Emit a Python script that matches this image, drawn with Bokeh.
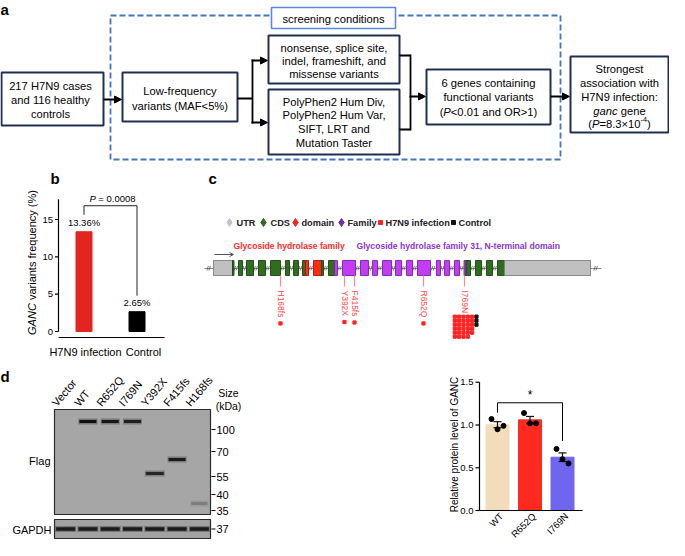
import math
import numpy as np
from bokeh.plotting import figure
from bokeh.models import Range1d, Arrow, NormalHead, OpenHead
from bokeh.core.properties import value
from bokeh.embed import file_html
from bokeh.resources import INLINE

FONT = "Liberation Sans"

# ---------------- data ----------------
a_start = ["217 H7N9 cases", "and 116 healthy", "controls"]
a_filter = ["Low-frequency", "variants (MAF<5%)"]
a_func = ["nonsense, splice site,", "indel, frameshift, and", "missense variants"]
a_pred = ["PolyPhen2 Hum Div,", "PolyPhen2 Hum Var,", "SIFT, LRT and", "Mutation Taster"]
a_genes = ["6 genes containing", "functional variants"]
a_result = ["Strongest", "association with", "H7N9 infection:"]
a_screen = "screening conditions"

b_groups = ["H7N9 infection", "Control"]
b_freq = [13.36, 2.65]
b_colors = ["#e3241f", "#000000"]
b_yticks = [0, 5, 10, 15]
b_pvalue = "0.0008"

c_legend = ["UTR", "CDS", "domain", "Family", "H7N9 infection", "Control"]
c_variants = ["H168fs", "Y392X", "F415fs", "R652Q", "I769N"]
c_case_counts = [1, 1, 1, 1, 29]
c_ctrl_counts = [0, 0, 0, 0, 3]
c_domain_titles = ["Glycoside hydrolase family", "Glycoside hydrolase family 31, N-terminal domain"]

d_lanes = ["Vector", "WT", "R652Q", "I769N", "Y392X", "F415fs", "H168fs"]
d_ladder = ["100", "70", "55", "40", "35"]
d_groups = ["WT", "R652Q", "I769N"]
d_wt = [1.07, 0.95, 0.99]
d_r652q = [1.14, 1.02, 1.02]
d_i769n = [0.72, 0.60, 0.55]
d_colors = ["#f3dcb9", "#ff2a1f", "#6f66f0"]
d_yticks = [0.0, 0.5, 1.0, 1.5]

# ---------------- canvas ----------------
W, H = 669, 540
TOP, BOT = 8, 8 + H
p = figure(width=W, height=H, x_range=Range1d(8, 8 + W), y_range=Range1d(BOT, TOP),
           output_backend="svg", toolbar_location=None, min_border=0, title=None,
           x_axis_location=None, y_axis_location=None)
p.grid.visible = False
p.outline_line_color = None
p.background_fill_color = "white"
p.border_fill_color = "white"

ranges = {}
def make_range(name, v0, px0, v1, px1):
    k = (px0 - px1) / (v1 - v0)
    start = v0 - (BOT - px0) / k
    end = start + (BOT - TOP) / k
    ranges[name] = Range1d(start, end)
    return k

kb = make_range("b", 0, 339, 15, 227)
kd = make_range("d", 0.0, 518, 1.0, 432.5)
p.extra_y_ranges = ranges

AW = {' ': 278, '(': 333, ')': 333, '%': 889, ',': 278, '-': 333, '.': 278, '<': 584, '>': 584,
      '=': 584, '×': 584, '*': 389, ':': 278}
for ch in '0123456789':
    AW[ch] = 556
AW.update(dict(A=667, B=667, C=722, D=722, E=667, F=611, G=778, H=722, I=278, J=500, K=667, L=556,
               M=833, N=722, O=778, P=667, Q=778, R=722, S=667, T=611, U=722, V=667, W=944, X=667,
               Y=667, Z=611))
AW.update(dict(a=556, b=556, c=500, d=556, e=556, f=278, g=556, h=556, i=222, j=222, k=500, l=222,
               m=833, n=556, o=556, p=556, q=556, r=333, s=500, t=278, u=556, v=500, w=722, x=500,
               y=500, z=500))

def tw(s, size):
    return sum(AW.get(ch, 556) for ch in s) / 1000.0 * size

def put(x, y, s, size, color="#000000", align="center", baseline="middle", style="normal",
        angle=0.0, yr="default"):
    xs = list(x) if isinstance(x, (list, tuple, np.ndarray)) else [x]
    ys = list(y) if isinstance(y, (list, tuple, np.ndarray)) else [y]
    ss = list(s) if isinstance(s, (list, tuple)) else [s]
    p.text(x=xs, y=ys, text=ss, text_font=value(FONT), text_font_size=f"{size}px",
           text_color=color, text_align=align, text_baseline=baseline, text_font_style=style,
           angle=angle, y_range_name=yr)

def rich(x, y, pieces, size, color="#000000", vertical=False):
    widths = [tw(s, size * sc) for s, st, sc, dy in pieces]
    pos = -sum(widths) / 2.0
    for (s, st, sc, dy), w in zip(pieces, widths):
        lead = len(s) - len(s.lstrip(' '))
        off = pos + lead * 0.278 * size * sc
        if vertical:
            put(x, y - off, s.strip(), size * sc, color, "left", style=st, angle=math.pi / 2)
        else:
            put(x + off, y + dy, s.strip(), size * sc, color, "left", style=st)
        pos += w

def box(l, r, t, b, color="#1f2f52", width=2.0, dash="solid", fill=None):
    p.quad(left=[l], right=[r], top=[t], bottom=[b], fill_color=fill, fill_alpha=1 if fill else 0,
           line_color=color, line_width=width, line_dash=dash)

def arrow(x0, y0, x1, y1):
    p.add_layout(Arrow(end=NormalHead(size=7, fill_color="#000000", line_color="#000000", line_width=1),
                       x_start=x0, y_start=y0, x_end=x1, y_end=y1, line_width=1.8, line_color="#000000"))

# ---------------- panel labels ----------------
put(8, 8, "a", 15, align="left", baseline="top", style="bold")
put(58, 177, "b", 15, align="left", baseline="top", style="bold")
put(216, 177, "c", 15, align="left", baseline="top", style="bold")
put(8, 375, "d", 15, align="left", baseline="top", style="bold")

# ---------------- panel a ----------------
FS = 11.2
box(118, 568, 23, 167, color="#4472c4", width=1.8, dash="6 3")
box(279, 403, 15, 36, color="#5b8ad6", width=1.6, fill="white")
put(341, 26, a_screen, FS)

box(9, 111, 80, 133)
put([58] * 3, [93, 107.5, 121], a_start, FS)
arrow(111, 107, 129, 107)

box(130, 245, 80, 129)
put([187.5] * 2, [98.5, 113.5], a_filter, FS)
p.line([245, 260], [106, 106], line_color="black", line_width=1.8)
p.line([260, 260], [67, 131], line_color="black", line_width=1.8)
arrow(259, 68, 275, 68)
arrow(259, 130, 275, 130)

box(276, 407, 43, 91)
put([341.5] * 3, [55, 68, 81], a_func, FS)
box(276, 407, 97, 162)
put([341.5] * 4, [109, 122.5, 136, 150], a_pred, FS)

p.line([407, 418], [63, 63], line_color="black", line_width=1.8)
p.line([407, 418], [137, 137], line_color="black", line_width=1.8)
p.line([418, 418], [62, 138], line_color="black", line_width=1.8)
arrow(417, 104, 433, 104)

box(434, 558, 77, 132)
put([496] * 2, [90, 104.5], a_genes, FS)
rich(496, 119, [("(", "normal", 1, 0), ("P", "italic", 1, 0), ("<0.01 and OR>1)", "normal", 1, 0)], FS)
arrow(558, 104, 577, 104)

box(578, 676, 64, 140)
put([627] * 3, [76, 90, 104], a_result, FS)
rich(627, 118, [("ganc", "italic", 1, 0), (" gene", "normal", 1, 0)], FS)
rich(627, 131, [("(", "normal", 1, 0), ("P", "italic", 1, 0), ("=8.3×10", "normal", 1, 0),
                ("-4", "normal", 0.65, -4), (")", "normal", 1, 0)], FS)

# ---------------- panel b ----------------
bx = [91.5, 144.5]
AXB = 66
p.vbar(x=bx, width=16, top=b_freq, bottom=0, fill_color=b_colors, line_color=b_colors,
       y_range_name="b")
for xv, v in zip(bx, b_freq):
    put(xv, v + 4 / kb, f"{v:.2f}%", 9.5, baseline="bottom", yr="b")
p.line([AXB, AXB], [0, 17.7], line_color="black", line_width=1.2, y_range_name="b")
p.segment(x0=[AXB - 3.5] * len(b_yticks), x1=[AXB] * len(b_yticks), y0=b_yticks, y1=b_yticks,
          line_color="black", line_width=1.2, y_range_name="b")
put([AXB - 5.5] * len(b_yticks), b_yticks, [str(t) for t in b_yticks], 9.5, align="right", yr="b")
p.line([AXB, 172], [345, 345], line_color="black", line_width=1.2)
put([93, 151], [359, 359], b_groups, 11)
rich(39, 270, [("GANC", "italic", 1, 0), (" variants frequency (%)", "normal", 1, 0)], 11, vertical=True)
top_b = max(b_freq) + 26 / kb
p.line([bx[0], bx[0], bx[1], bx[1]],
       [b_freq[0] + 17 / kb, top_b, top_b, b_freq[1] + 16 / kb],
       line_color="#222222", line_width=1.0, y_range_name="b")
rich((bx[0] + bx[1]) / 2 + 2, 206, [("P", "italic", 1, 0), (" = " + b_pvalue, "normal", 1, 0)], 9.5)

# ---------------- panel c ----------------
leg_mx = [237, 271, 303, 349, 388, 461]
leg_tx = [244, 278, 309, 355, 393, 466]
leg_mk = ["diamond", "diamond", "diamond", "diamond", "square", "square"]
leg_col = ["#c4c4c4", "#2e6b1a", "#ff2020", "#7030a0", "#ff2020", "#111111"]
leg_sz = [8, 8, 8, 8, 4, 4]
p.scatter(x=leg_mx, y=[230] * 6, marker=leg_mk, size=leg_sz, fill_color=leg_col, line_color=leg_col)
put(leg_tx, [230] * 6, c_legend, 9.2, color="#222222", align="left", style="bold")

put(241, 253, c_domain_titles[0], 8.6, color="#ff2b2b", align="left", style="bold")
put(364, 253, c_domain_titles[1], 8.6, color="#8c35d0", align="left", style="bold")
p.add_layout(Arrow(end=OpenHead(size=4, line_color="#555555", line_width=1),
                   x_start=222, y_start=262, x_end=241, y_end=262, line_width=1, line_color="#555555"))

EX = {"utr": ("#c0c0c0", "#808080"), "cds": ("#2e6e1c", "#1b4310"),
      "dom": ("#ff2a12", "#b01010"), "fam": ("#c23cf5", "#7d1fa6")}
exons = [(221, 240, "utr"), (240, 241.5, "cds"), (246, 250, "cds"), (254, 261, "cds"), (266, 273, "cds"),
         (278, 288, "cds"), (293, 297, "cds"), (301, 306, "cds"), (310, 313, "cds"), (313, 316, "dom"),
         (321, 329, "dom"), (329, 331, "cds"), (336, 342, "cds"), (342, 345, "fam"), (350, 363, "fam"),
         (368, 376, "fam"), (380, 385, "fam"), (390, 399, "fam"), (403, 409, "fam"), (414, 420, "fam"),
         (425, 438, "fam"), (444, 448, "fam"), (452, 457, "fam"), (462, 467, "fam"), (471.5, 473.5, "fam"),
         (473.5, 478, "cds"), (483, 489, "cds"), (494, 500, "cds"), (505, 512, "cds"), (512, 598, "utr")]
p.line([212, 609], [276, 276], line_color="#8c8c8c", line_width=1.0)
gap_c = [216.5]
for a0, a1 in zip(exons[:-1], exons[1:]):
    if a1[0] - a0[1] > 2.5:
        gap_c.append((a0[1] + a1[0]) / 2)
gap_c.append(603.5)
gx0 = [g - 2.2 for g in gap_c] + [g - 0.2 for g in gap_c]
gx1 = [g - 0.6 for g in gap_c] + [g + 1.4 for g in gap_c]
p.segment(x0=gx0, y0=[278] * len(gx0), x1=gx1, y1=[273.5] * len(gx0), line_color="#555555", line_width=0.8)
p.quad(left=[e[0] for e in exons], right=[e[1] for e in exons], top=[268] * len(exons),
       bottom=[283] * len(exons), fill_color=[EX[e[2]][0] for e in exons],
       line_color=[EX[e[2]][1] for e in exons], line_width=0.9)

var_x = [288, 352, 362, 431, 472]
p.segment(x0=var_x, x1=var_x, y0=[283] * 5, y1=[294] * 5, line_color="#ff8c8c", line_width=1.2)
put(var_x, [298] * 5, c_variants, 8.5, color="#ff4646", align="left", angle=-math.pi / 2)
for i, (xv, name) in enumerate(zip(var_x, c_variants)):
    y_end = 298 + tw(name, 8.5)
    nc, nk = c_case_counts[i], c_ctrl_counts[i]
    if nc + nk == 1:
        p.scatter(x=[xv], y=[y_end + 6], marker="square", size=3.2, fill_color="#ff2020", line_color="#ff2020")
    else:
        ncol = 5
        gx = [xv - 9.7 + 4.33 * (j % ncol) for j in range(nc)]
        gy = [y_end + 3.5 + 4 * (j // ncol) for j in range(nc)]
        p.scatter(x=gx, y=gy, marker="square", size=3.2, fill_color="#ff2020", line_color="#ff2020")
        kx = [xv - 9.7 + 4.33 * ncol] * nk
        ky = [y_end + 3.5 + 4 * j for j in range(nk)]
        p.scatter(x=kx, y=ky, marker="square", size=3.2, fill_color="#111111", line_color="#111111")

# ---------------- panel d: western blot ----------------
BL, BR = 62, 218
lw = (BR - BL) / len(d_lanes)
lane_x = [BL + lw / 2 + lw * i for i in range(len(d_lanes))]
box(BL, BR, 417, 522, color="#2a2a2a", width=1.2, fill="#a6a6a6")
box(BL, BR, 527, 546, color="#2a2a2a", width=1.2, fill="#a2a2a2")
put([x - 7 for x in lane_x], [416] * len(d_lanes), d_lanes, 11, align="left", baseline="bottom",
    angle=0.87)
put(236, 400, "Size", 10.5)
put(236, 413, "(kDa)", 10.5)
lad_y = [437, 459, 484, 502, 518]
p.segment(x0=[219] * 5, x1=[223] * 5, y0=lad_y, y1=lad_y, line_color="black", line_width=1.2)
put([224] * 5, lad_y, d_ladder, 11, align="left")
p.segment(x0=[219], x1=[223], y0=[536.5], y1=[536.5], line_color="black", line_width=1.2)
put(224, 536.5, "37", 11, align="left")
put(58, 468, "Flag", 11, align="right")
put(59, 537, "GAPDH", 11, align="right")

band_lane = [1, 2, 3, 4, 5, 6]
band_y = [429, 429, 429, 481, 467, 511]
band_w = [17, 17, 17, 18, 17, 16]
band_c = ["#0a0a0a", "#111111", "#1a1a1a", "#222222", "#151515", "#7c7c7c"]
bxs = [lane_x[i] for i in band_lane]
p.rect(x=bxs, y=band_y, width=[w + 2 for w in band_w], height=6, fill_color=band_c, fill_alpha=0.3, line_color=None)
p.rect(x=bxs, y=band_y, width=band_w, height=3.2, fill_color=band_c, fill_alpha=0.95, line_color=None)
p.rect(x=lane_x, y=[536.5] * 7, width=21, height=6, fill_color="#111111", fill_alpha=0.3, line_color=None)
p.rect(x=lane_x, y=[536.5] * 7, width=19, height=3.5, fill_color="#111111", fill_alpha=0.9, line_color=None)

# ---------------- panel d: quantification ----------------
reps = [d_wt, d_r652q, d_i769n]
means = [float(np.mean(r)) for r in reps]
sems = [float(np.std(r, ddof=1) / np.sqrt(len(r))) for r in reps]
AXD = 487
dx = [505, 537.5, 570]
p.vbar(x=dx, width=23, top=means, bottom=0, fill_color=d_colors, line_color=d_colors, y_range_name="d")
lo = [m - s for m, s in zip(means, sems)]
hi = [m + s for m, s in zip(means, sems)]
p.segment(x0=dx, x1=dx, y0=lo, y1=hi, line_color="#111111", line_width=1.2, y_range_name="d")
p.segment(x0=[x - 4 for x in dx], x1=[x + 4 for x in dx], y0=hi, y1=hi, line_color="#111111",
          line_width=1.2, y_range_name="d")
p.segment(x0=[x - 4 for x in dx], x1=[x + 4 for x in dx], y0=lo, y1=lo, line_color="#111111",
          line_width=1.2, y_range_name="d")
jit = [-6, 0, 6]
px_, py_ = [], []
for xv, r in zip(dx, reps):
    for j, v in zip(jit, r):
        px_.append(xv + j)
        py_.append(v)
p.scatter(x=px_, y=py_, size=5, fill_color="#000000", line_color="#000000", y_range_name="d")
p.line([AXD, AXD], [0, 1.5], line_color="black", line_width=1.2, y_range_name="d")
p.segment(x0=[AXD - 4] * 4, x1=[AXD] * 4, y0=d_yticks, y1=d_yticks, line_color="black", line_width=1.2,
          y_range_name="d")
put([AXD - 6] * 4, d_yticks, [f"{t:.1f}" for t in d_yticks], 9.5, align="right", yr="d")
p.line([AXD, 590], [0, 0], line_color="black", line_width=1.2, y_range_name="d")
put([x + 4 for x in dx], [522] * 3, d_groups, 9.5, align="right", baseline="middle", angle=math.pi / 4)
put(462, 452, "Relative protein level of GANC", 10, angle=math.pi / 2)
sig_top = max(hi) + 0.16
p.line([dx[0], dx[0], dx[2], dx[2]],
       [sig_top - 10 / kd, sig_top, sig_top, hi[2] + 0.14],
       line_color="black", line_width=1.0, y_range_name="d")
put((dx[0] + dx[2]) / 2, sig_top + 1 / kd, "*", 12, baseline="bottom", yr="d")

open("out.html", "w").write(file_html(p, INLINE))
